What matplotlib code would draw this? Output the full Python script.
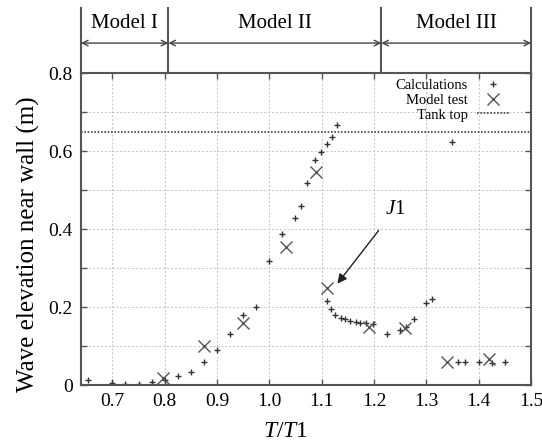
import numpy as np
import matplotlib
matplotlib.use("Agg")
import matplotlib.pyplot as plt
import matplotlib.transforms as mtransforms

plt.rcParams['font.family'] = ['Liberation Serif', 'DejaVu Serif']
plt.rcParams['mathtext.fontset'] = 'custom'
plt.rcParams['mathtext.rm'] = 'Liberation Serif'
plt.rcParams['mathtext.it'] = 'Liberation Serif:italic'

# calculated wave elevation
calc_x = [0.654, 0.70, 0.725, 0.751, 0.775, 0.80, 0.825, 0.85, 0.875, 0.90, 0.925, 0.95, 0.975,
          1.00, 1.025, 1.049, 1.06, 1.071, 1.088, 1.099, 1.11, 1.12, 1.13,
          1.11, 1.117, 1.125, 1.136, 1.145, 1.155, 1.165, 1.174, 1.185, 1.199,
          1.225, 1.249, 1.262, 1.276, 1.30, 1.31, 1.349,
          1.36, 1.374, 1.40, 1.425, 1.45]
calc_y = [0.013, 0.006, 0.002, 0.003, 0.008, 0.012, 0.024, 0.034, 0.06, 0.091, 0.13, 0.18, 0.20,
          0.319, 0.388, 0.428, 0.458, 0.517, 0.578, 0.598, 0.617, 0.637, 0.668,
          0.215, 0.196, 0.179, 0.173, 0.169, 0.164, 0.162, 0.16, 0.158, 0.156,
          0.13, 0.14, 0.15, 0.17, 0.211, 0.22, 0.622,
          0.06, 0.06, 0.06, 0.057, 0.06]

# model test
test_x = [0.797, 0.875, 0.95, 1.031, 1.09, 1.11, 1.19, 1.26, 1.34, 1.42]
test_y = [0.017, 0.10, 0.159, 0.353, 0.547, 0.249, 0.149, 0.145, 0.06, 0.066]

tank_top = 0.65

# model regions along the top
region_edges = [0.64, 0.807, 1.214, 1.5]
region_names = ['Model I', 'Model II', 'Model III']

xticks = [0.7, 0.8, 0.9, 1.0, 1.1, 1.2, 1.3, 1.4, 1.5]
yticks = [0, 0.1, 0.2, 0.3, 0.4, 0.5, 0.6, 0.7, 0.8]
ylabels = ['0', '', '0.2', '', '0.4', '', '0.6', '', '0.8']

fig = plt.figure(figsize=(5.42, 4.48), dpi=100)
ax = fig.add_axes([0.1494, 0.1406, 0.8303, 0.6964])

spine_col = '#555555'
ax.plot(calc_x, calc_y, '+', color='#333333', ms=4, mew=1.0, label='Calculations')
ax.plot(test_x, test_y, 'x', color='#555555', ms=8, mew=1.0, label='Model test')
ax.axhline(tank_top, color='#444444', lw=1.2, ls=(0, (1, 1)), label='Tank top')

ax.set_xlim(0.64, 1.5)
ax.set_ylim(0, 0.8)
ax.set_xticks(xticks)
ax.set_xticklabels(['%.1f' % v for v in xticks])
ax.set_yticks(yticks)
ax.set_yticklabels(ylabels)
ax.tick_params(direction='in', top=True, right=True, length=4, width=1,
               color=spine_col, labelsize=14, pad=6)
ax.grid(True, color='#c4c4c4', ls=(0, (2, 2)), lw=0.7)
for s in ax.spines.values():
    s.set_color(spine_col)
    s.set_linewidth(1.5)

ax.set_xlabel('$T$/$T$1', fontsize=17)
ax.xaxis.set_label_coords(0.455, -0.115)
ax.set_ylabel('Wave elevation near wall (m)', fontsize=18)
ax.yaxis.set_label_coords(-0.092, 0.45)

ax.legend(loc='upper right', bbox_to_anchor=(0.98, 1.023), frameon=False, markerfirst=False,
          fontsize=10.5, handlelength=2.2, handletextpad=0.6, labelspacing=0.1)

# J1 annotation
ax.annotate('$J$1', xy=(1.13, 0.26), xytext=(1.24, 0.45), fontsize=15,
            ha='center', va='center',
            arrowprops=dict(arrowstyle='-|>', color='#222222', lw=1.0,
                            shrinkA=8, shrinkB=0, mutation_scale=14))

# model region bars above the plot
trans = mtransforms.blended_transform_factory(ax.transData, ax.transAxes)
for xe in region_edges:
    ax.plot([xe, xe], [1.0, 1.208], transform=trans, color=spine_col, lw=1.5, clip_on=False)
for i, name in enumerate(region_names):
    a, b = region_edges[i], region_edges[i + 1]
    ax.annotate('', xy=(a, 1.096), xytext=(b, 1.096), xycoords=trans, textcoords=trans,
                arrowprops=dict(arrowstyle='<->', color='#444444', lw=1.0,
                                shrinkA=0, shrinkB=0, mutation_scale=10))
    ax.text((a + b) / 2, 1.16, name, transform=trans, ha='center', va='center', fontsize=15)

plt.savefig('out.png', dpi=100)
